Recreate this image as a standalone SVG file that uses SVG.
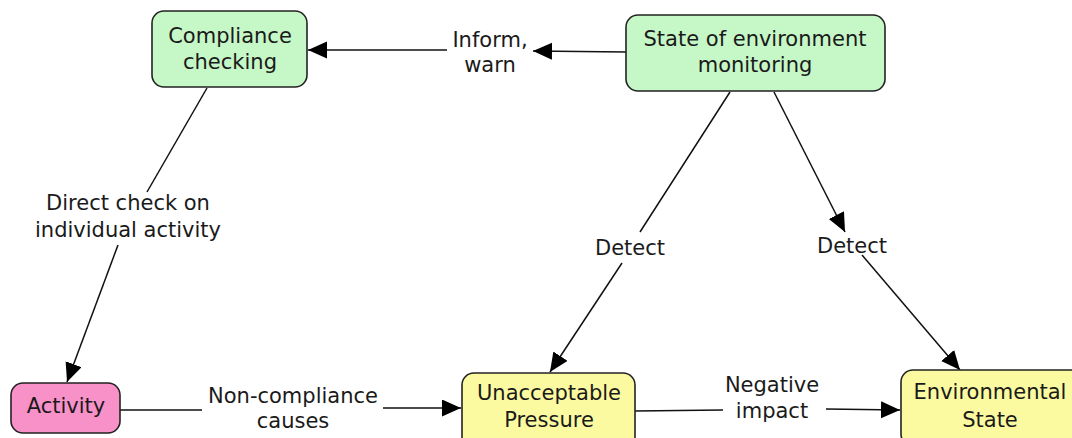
<svg xmlns="http://www.w3.org/2000/svg" width="1072" height="438" viewBox="0 0 1072 438">
  <style>
    .node { stroke: #222; stroke-width: 1.6; }
    .green { fill: #c6f7c6; }
    .pink { fill: #f791c8; }
    .yellow { fill: #fcfaa0; }
    text { font-family: "DejaVu Sans", Verdana, sans-serif; font-size: 21px; fill: #1a1a1a; text-anchor: middle; }
    .link { stroke: #111; stroke-width: 1.5; fill: none; }
    .arrow { marker-end: url(#head); }
  </style>
  <defs>
    <marker id="head" markerUnits="userSpaceOnUse" markerWidth="20" markerHeight="18" refX="19" refY="8.5" orient="auto">
      <path d="M0,0 L19,8.5 L0,17 z" fill="#000"/>
    </marker>
  </defs>

  <!-- connectors -->
  <g id="connectors">
    <line class="link arrow" x1="626" y1="52" x2="533" y2="51"/>
    <line class="link arrow" x1="447" y1="50" x2="308" y2="50"/>

    <line class="link" x1="207" y1="88" x2="147" y2="192"/>
    <line class="link arrow" x1="118" y1="245" x2="67" y2="382"/>

    <line class="link" x1="120" y1="410" x2="202" y2="410"/>
    <line class="link arrow" x1="383" y1="408" x2="461" y2="408"/>

    <line class="link" x1="635" y1="411" x2="723" y2="410"/>
    <line class="link arrow" x1="826" y1="409" x2="900" y2="410"/>

    <line class="link" x1="730" y1="92" x2="640" y2="232"/>
    <line class="link arrow" x1="622" y1="263" x2="550" y2="372"/>

    <line class="link arrow" x1="774" y1="92" x2="845" y2="232"/>
    <line class="link arrow" x1="862" y1="255" x2="960" y2="370"/>
  </g>

  <!-- connector labels -->
  <g id="labels">
    <text x="490" y="47">Inform,</text>
    <text x="490" y="72">warn</text>
    <text x="128" y="210">Direct check on</text>
    <text x="128" y="237">individual activity</text>
    <text x="293" y="403">Non-compliance</text>
    <text x="293" y="428">causes</text>
    <text x="772" y="392">Negative</text>
    <text x="772" y="418">impact</text>
    <text x="630" y="255">Detect</text>
    <text x="852" y="253">Detect</text>
  </g>

  <!-- nodes -->
  <g id="compliance-checking">
    <rect class="node green" x="152" y="11" width="155" height="76" rx="12"/>
    <text x="230" y="43">Compliance</text>
    <text x="230" y="69">checking</text>
  </g>
  <g id="state-monitoring">
    <rect class="node green" x="626" y="15" width="259" height="76" rx="12"/>
    <text x="755" y="46">State of environment</text>
    <text x="755" y="72">monitoring</text>
  </g>
  <g id="activity">
    <rect class="node pink" x="11" y="383" width="109" height="50" rx="12"/>
    <text x="66" y="413">Activity</text>
  </g>
  <g id="unacceptable-pressure">
    <rect class="node yellow" x="462" y="373" width="173" height="76" rx="12"/>
    <text x="549" y="400">Unacceptable</text>
    <text x="549" y="427">Pressure</text>
  </g>
  <g id="environmental-state">
    <rect class="node yellow" x="901" y="370" width="182" height="76" rx="12"/>
    <text x="990" y="399">Environmental</text>
    <text x="990" y="427">State</text>
  </g>
</svg>
